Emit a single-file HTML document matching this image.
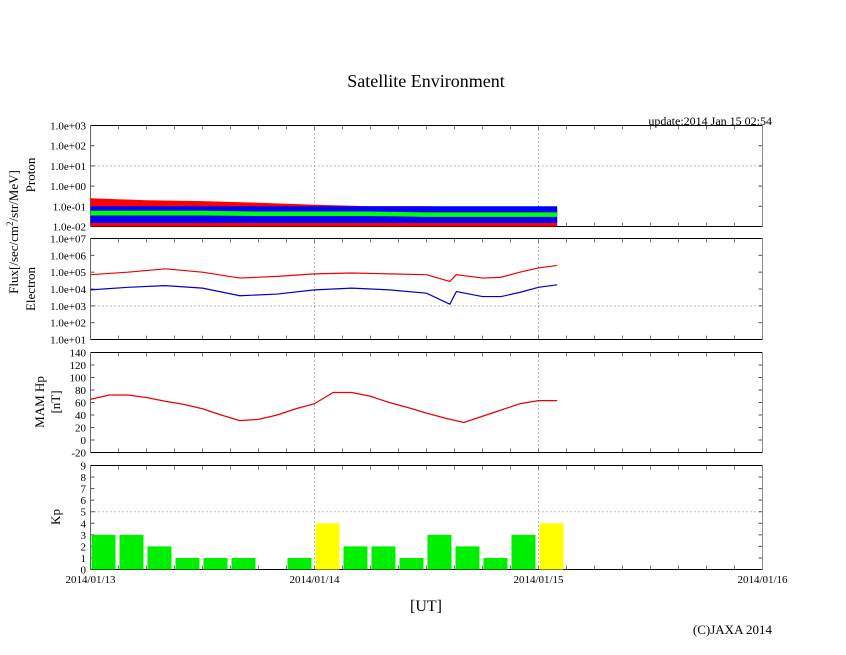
<!DOCTYPE html>
<html><head><meta charset="utf-8">
<style>
body{margin:0;background:#fff;}
svg{display:block;font-family:"Liberation Serif",serif;}
</style></head>
<body>
<svg id="chart" width="846" height="655" viewBox="0 0 846 655">
<text x="426" y="87" font-size="18" text-anchor="middle">Satellite Environment</text>
<text x="772" y="125" font-size="12" text-anchor="end">update:2014 Jan 15 02:54</text>
<text x="426" y="611" font-size="16" text-anchor="middle">[UT]</text>
<text x="772" y="634" font-size="13" text-anchor="end">(C)JAXA 2014</text>
<text transform="translate(18,232) rotate(-90)" font-size="13" text-anchor="middle">Flux[/sec/cm<tspan dy="-5" font-size="9">2</tspan><tspan dy="5">/str/MeV]</tspan></text>
<text transform="translate(35,175) rotate(-90)" font-size="13" text-anchor="middle">Proton</text>
<text transform="translate(35,289) rotate(-90)" font-size="13" text-anchor="middle">Electron</text>
<text transform="translate(44,402) rotate(-90)" font-size="13" text-anchor="middle">MAM Hp</text>
<text transform="translate(60,402) rotate(-90)" font-size="13" text-anchor="middle">[nT]</text>
<text transform="translate(60,517) rotate(-90)" font-size="13" text-anchor="middle">Kp</text>
<g id="layer"></g>
</svg>
<script>
// ---- data ----
const hours = [0,2,4,6,8,10,12,14,16,18,20,22,24,26,28,30,32,34,36,38,40,42,44,46,48,50];
const mamHp = [65,72,72,68,62,57,50,40,31,33,40,50,58,76,76,70,60,52,43,35,28,38,48,58,63,63];
const elecHours = [0,4,8,12,16,20,24,28,32,36,38.5,39.2,42,44,46,48,50];
const elecRedLog = [4.85,5.0,5.2,5.0,4.65,4.75,4.9,4.95,4.9,4.85,4.45,4.85,4.65,4.7,5.0,5.25,5.4];
const elecBlueLog = [3.95,4.1,4.2,4.05,3.6,3.7,3.95,4.05,3.95,3.75,3.1,3.85,3.55,3.55,3.8,4.1,4.25];
const protonHours = [0,6,12,18,24,30,36,42,48,50];
const protonRedMax = [0.25,0.2,0.18,0.15,0.12,0.1,0.1,0.09,0.08,0.08];
const protonRedMin = [0.01,0.01,0.01,0.01,0.01,0.01,0.01,0.01,0.01,0.01];
const protonBlueMax = [0.1,0.1,0.1,0.1,0.1,0.1,0.1,0.1,0.1,0.1];
const protonBlueMin = [0.015,0.015,0.015,0.015,0.015,0.015,0.015,0.015,0.015,0.015];
const protonGreenMax = [0.06,0.06,0.06,0.055,0.055,0.055,0.05,0.05,0.05,0.05];
const protonGreenMin = [0.035,0.035,0.035,0.033,0.033,0.033,0.03,0.03,0.03,0.03];
const kpValues = [3,3,2,1,1,1,0,1,4,2,2,1,3,2,1,3,4];
const protonTicks = ["1.0e-02","1.0e-01","1.0e+00","1.0e+01","1.0e+02","1.0e+03"];
const electronTicks = ["1.0e+01","1.0e+02","1.0e+03","1.0e+04","1.0e+05","1.0e+06","1.0e+07"];
const mamTicks = [-20,0,20,40,60,80,100,120,140];
const kpTicks = [0,1,2,3,4,5,6,7,8,9];
const dateLabels = ["2014/01/13","2014/01/14","2014/01/15","2014/01/16"];

const NS="http://www.w3.org/2000/svg";
const L=document.getElementById('layer');
function mk(t,a,p){const e=document.createElementNS(NS,t);for(const k in a)e.setAttribute(k,a[k]);(p||L).appendChild(e);return e;}
const X0=90.5,X1=762.5;
const x=h=>X0+(X1-X0)*h/72;
const panels={
 proton:{top:125.5,bot:226.5,min:-2,max:3},
 electron:{top:238.5,bot:339.5,min:1,max:7},
 mam:{top:352.5,bot:452.5,min:-20,max:140},
 kp:{top:465.5,bot:569.5,min:0,max:9}
};
function yf(p){return v=>p.bot-(v-p.min)/(p.max-p.min)*(p.bot-p.top);}
const yP=yf(panels.proton), yE=yf(panels.electron), yM=yf(panels.mam), yK=yf(panels.kp);

function frame(name,p,ticks,tickVal,grid){
  const g=mk('g',{});
  
  
  const yy=yf(p);
  ticks.forEach((t,i)=>{
    const v=tickVal(t,i),y=yy(v);
    const tx=mk('text',{x:86,y:y+4,'font-size':11,'text-anchor':'end'},g);tx.textContent=t;
    
    
    mk('line',{x1:X0,x2:X0+4,y1:y,y2:y,stroke:'#555'},g);
    mk('line',{x1:X1,x2:X1-4,y1:y,y2:y,stroke:'#555'},g);
  });
  if(grid!==null){const y=yy(grid);mk('line',{x1:X0,x2:X1,y1:y,y2:y,stroke:'#777','stroke-dasharray':'1,3'},g);}
  [24,48].forEach(h=>mk('line',{x1:x(h),x2:x(h),y1:p.top,y2:p.bot,stroke:'#777','stroke-dasharray':'1,3'},g));
  for(let h=3;h<72;h+=3){mk('line',{x1:x(h),x2:x(h),y1:p.bot,y2:p.bot-4,stroke:'#777'},g);mk('line',{x1:x(h),x2:x(h),y1:p.top,y2:p.top+4,stroke:'#777'},g);}
  mk('line',{x1:X0,x2:X1,y1:p.top,y2:p.top,stroke:'#000'},g);
  mk('line',{x1:X0,x2:X1,y1:p.bot,y2:p.bot,stroke:'#000'},g);
  mk('line',{x1:X0,x2:X0,y1:p.top,y2:p.bot,stroke:'#666'},g);
  mk('line',{x1:X1,x2:X1,y1:p.top,y2:p.bot,stroke:'#888'},g);
  return g;
}
function band(hs,mx,mn,color,name){
  let d='M'+hs.map((h,i)=>x(h)+','+yP(Math.log10(mx[i]))).join('L');
  for(let i=hs.length-1;i>=0;i--)d+='L'+x(hs[i])+','+yP(Math.log10(mn[i]));
  const e=mk('path',{d:d+'Z',fill:color});
  
  
}
frame('proton',panels.proton,protonTicks,(t,i)=>i-2,1);
band(protonHours,protonRedMax,protonRedMin,'#f00','proton-red-series');
band(protonHours,protonBlueMax,protonBlueMin,'#00f','proton-blue-series');
band(protonHours,protonGreenMax,protonGreenMin,'#0f0','proton-green-series');

frame('electron',panels.electron,electronTicks,(t,i)=>i+1,3);
function line(hs,vs,yfn,color,name){
  const e=mk('polyline',{points:hs.map((h,i)=>x(h)+','+yfn(vs[i])).join(' '),fill:'none',stroke:color,'stroke-width':1.2});
  
  
}
line(elecHours,elecRedLog,yE,'#e00','electron-red-series');
line(elecHours,elecBlueLog,yE,'#00c','electron-blue-series');

frame('mam',panels.mam,mamTicks.map(String),(t)=>+t,null);
line(hours,mamHp,yM,'#e00','mam-hp-series');

frame('kp',panels.kp,kpTicks.map(String),(t)=>+t,5);
kpValues.forEach((v,i)=>{
  if(v<=0)return;
  const r=mk('rect',{x:x(i*3)+1,y:yK(v),width:(x(3)-x(0))-4,height:yK(0)-yK(v),fill:v>=4?'#ff0':'#0e0'});
  
  
});
dateLabels.forEach((d,i)=>{
  const t=mk('text',{x:x(i*24),y:583,'font-size':11,'text-anchor':'middle'});t.textContent=d;
  
  
});
</script>
</body></html>
